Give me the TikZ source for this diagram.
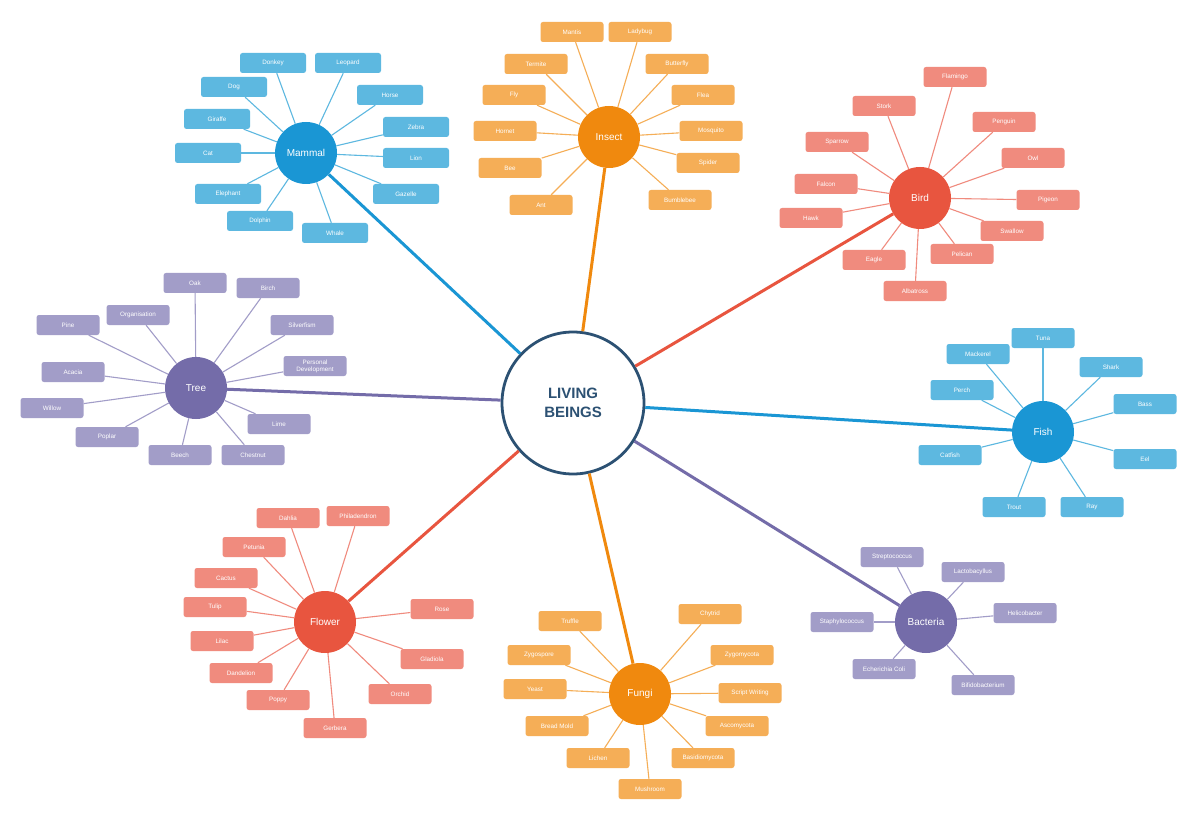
\documentclass[tikz,border=0pt]{standalone}
\usepackage{fontspec}
\setmainfont{Liberation Sans}
\definecolor{blueC}{HTML}{1A96D4}
\definecolor{blueL}{HTML}{5DB8E0}
\definecolor{orangeC}{HTML}{F0890E}
\definecolor{orangeL}{HTML}{F5AE57}
\definecolor{redC}{HTML}{E8553F}
\definecolor{redL}{HTML}{F08B7E}
\definecolor{purpC}{HTML}{746CA9}
\definecolor{purpL}{HTML}{A29DC8}
\definecolor{centerC}{HTML}{2C5173}
\tikzset{
  lf/.style={rectangle, rounded corners=2.5pt, minimum width=63pt, minimum height=20pt, inner sep=0pt,
    text=white, align=center, font=\fontsize{6.3}{7}\selectfont, fill=#1},
  cat/.style={circle, minimum size=62pt, inner sep=0pt, fill=#1, text=white, font=\fontsize{10}{12}\selectfont},
  cl/.style={draw=#1, line width=1.1pt},
  ml/.style={draw=#1, line width=3pt},
}
\begin{document}
\begin{tikzpicture}[x=1pt,y=-1pt]
\useasboundingbox (0,0) rectangle (1200,821);
\fill[white] (0,0) rectangle (1200,821);
% center
\node[circle, minimum size=142pt, inner sep=0pt, draw=centerC, line width=2.8pt, fill=white,
  text=centerC, align=center, font=\fontsize{15}{19}\selectfont\bfseries] (center) at (573,403) {LIVING\\BEINGS};
% categories
\node[cat=blueC] (mammal) at (306,153) {Mammal};
\node[cat=orangeC] (insect) at (609,137) {Insect};
\node[cat=redC] (bird) at (920,198) {Bird};
\node[cat=purpC] (tree) at (196,388) {Tree};
\node[cat=blueC] (fish) at (1043,432) {Fish};
\node[cat=redC] (flower) at (325,622) {Flower};
\node[cat=orangeC] (fungi) at (640,694) {Fungi};
\node[cat=purpC] (bacteria) at (926,622) {Bacteria};
% main links
\draw[ml=blueC] (center) -- (mammal);
\draw[ml=orangeC] (center) -- (insect);
\draw[ml=redC] (center) -- (bird);
\draw[ml=purpC] (center) -- (tree);
\draw[ml=blueC] (center) -- (fish);
\draw[ml=redC] (center) -- (flower);
\draw[ml=orangeC] (center) -- (fungi);
\draw[ml=purpC] (center) -- (bacteria);
% mammal
\foreach \n/\x/\y/\t in {1/273/63/Donkey, 2/348/63/Leopard, 3/390/95/Horse, 4/416/127/Zebra, 5/416/158/Lion,
  6/406/194/Gazelle, 7/335/233/Whale, 8/260/221/Dolphin, 9/228/194/Elephant, 10/208/153/Cat, 11/217/119/Giraffe, 12/234/87/Dog}{
  \node[lf=blueL, minimum width=66pt] (m\n) at (\x,\y) {\t};
  \draw[cl=blueL] (mammal) -- (m\n);
}
% insect
\foreach \n/\x/\y/\t in {1/572/32/Mantis, 2/640/32/Ladybug, 3/536/64/Termite, 4/677/64/Butterfly, 5/514/95/Fly,
  6/703/95/Flea, 7/505/131/Hornet, 8/711/131/Mosquito, 9/510/168/Bee, 10/708/163/Spider, 11/541/205/Ant, 12/680/200/Bumblebee}{
  \node[lf=orangeL] (i\n) at (\x,\y) {\t};
  \draw[cl=orangeL] (insect) -- (i\n);
}
% bird
\foreach \n/\x/\y/\t in {1/955/77/Flamingo, 2/884/106/Stork, 3/1004/122/Penguin, 4/837/142/Sparrow, 5/1033/158/Owl,
  6/826/184/Falcon, 7/1048/200/Pigeon, 8/811/218/Hawk, 9/1012/231/Swallow, 10/874/260/Eagle, 11/962/254/Pelican, 12/915/291/Albatross}{
  \node[lf=redL] (b\n) at (\x,\y) {\t};
  \draw[cl=redL] (bird) -- (b\n);
}
% tree
\foreach \n/\x/\y/\t in {1/195/283/Oak, 2/268/288/Birch, 3/138/315/Organisation, 4/68/325/Pine, 5/302/325/Silverfism,
  6/315/366/{Personal\\Development}, 7/73/372/Acacia, 8/52/408/Willow, 9/279/424/Lime, 10/107/437/Poplar, 11/180/455/Beech, 12/253/455/Chestnut}{
  \node[lf=purpL] (t\n) at (\x,\y) {\t};
  \draw[cl=purpL] (tree) -- (t\n);
}
% fish
\foreach \n/\x/\y/\t in {1/1043/338/Tuna, 2/978/354/Mackerel, 3/1111/367/Shark, 4/962/390/Perch, 5/1145/404/Bass,
  6/950/455/Catfish, 7/1145/459/Eel, 8/1014/507/Trout, 9/1092/507/Ray}{
  \node[lf=blueL] (f\n) at (\x,\y) {\t};
  \draw[cl=blueL] (fish) -- (f\n);
}
% flower
\foreach \n/\x/\y/\t in {1/288/518/Dahlia, 2/358/516/Philadendron, 3/254/547/Petunia, 4/226/578/Cactus, 5/215/607/Tulip,
  6/442/609/Rose, 7/222/641/Lilac, 8/432/659/Gladiola, 9/241/673/Dandelion, 10/400/694/Orchid, 11/278/700/Poppy, 12/335/728/Gerbera}{
  \node[lf=redL] (w\n) at (\x,\y) {\t};
  \draw[cl=redL] (flower) -- (w\n);
}
% fungi
\foreach \n/\x/\y/\t in {1/570/621/Truffle, 2/710/614/Chytrid, 3/539/655/Zygospore, 4/742/655/Zygomycota, 5/535/689/Yeast,
  6/750/693/Script Writing, 7/557/726/Bread Mold, 8/737/726/Ascomycota, 9/598/758/Lichen, 10/703/758/Basidiomycota, 11/650/789/Mushroom}{
  \node[lf=orangeL] (g\n) at (\x,\y) {\t};
  \draw[cl=orangeL] (fungi) -- (g\n);
}
% bacteria
\foreach \n/\x/\y/\t in {1/892/557/Streptococcus, 2/973/572/Lactobacyllus, 3/1025/613/Helicobacter, 4/842/622/Staphylococcus,
  5/884/669/Echerichia Coli, 6/983/685/Bifidobacterium}{
  \node[lf=purpL] (c\n) at (\x,\y) {\t};
  \draw[cl=purpL] (bacteria) -- (c\n);
}
\end{tikzpicture}
\end{document}
